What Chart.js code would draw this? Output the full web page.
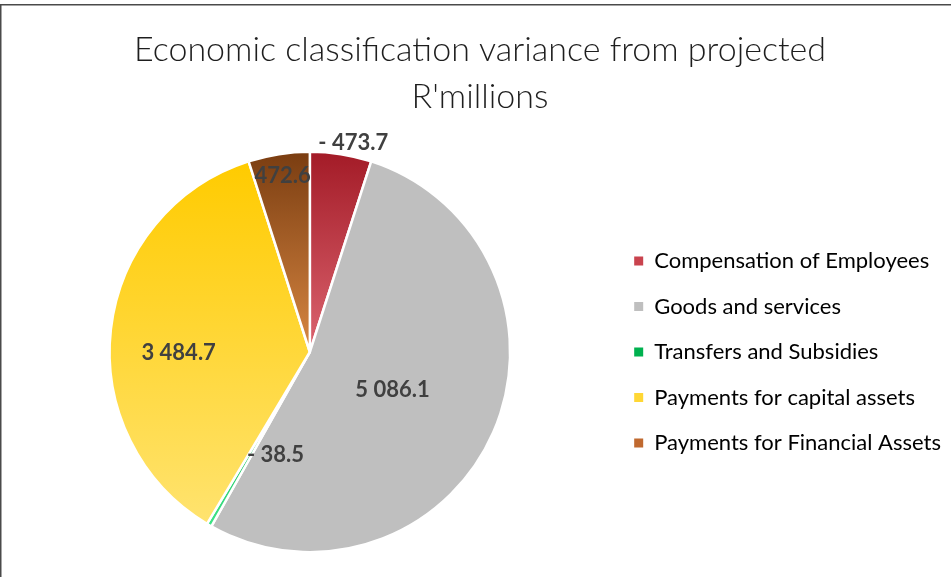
<!DOCTYPE html>
<html>
<head>
<meta charset="utf-8">
<title>Economic classification variance from projected</title>
<script src="https://cdn.jsdelivr.net/npm/chart.js@4"></script>
<style>
  html, body { margin: 0; padding: 0; background: #fff; }
  #wrap { width: 951px; height: 577px; position: relative; }
</style>
</head>
<body>
<div id="wrap"><canvas id="pie" width="951" height="577"></canvas></div>
<script>
'use strict';

// Chart data (variance from projected, R'millions)
const categories = [
  'Compensation of Employees',
  'Goods and services',
  'Transfers and Subsidies',
  'Payments for capital assets',
  'Payments for Financial Assets'
];
const variance = [-473.7, 5086.1, -38.5, 3484.7, 472.6];
const titleLines = ['Economic classification variance from projected', "R'millions"];

// slice fills: top -> bottom gradient stops, plus flat legend swatches
const gradTop = ['#a31b27', '#bfbfbf', '#009a3e', '#ffcb00', '#7a3d11'];
const gradBottom = ['#dc6570', '#bfbfbf', '#3fe487', '#ffe36f', '#d88742'];
const legendColors = ['#c9434e', '#bfbfbf', '#00b14f', '#ffd735', '#c0692f'];

// label placement: [fraction of radius, angle shift in degrees]
const labelPlace = [[1.067, 2.8], [0.454, 0.9], [0.54, -11.7], [0.655, -6.8], [0.89, 0.1]];

const BORDER = 2.5;

function fmt(v) {
  const s = Math.abs(v).toFixed(1).split('.');
  const intPart = s[0].replace(/\B(?=(\d{3})+(?!\d))/g, ' ');
  return (v < 0 ? '- ' : '') + intPart + '.' + s[1];
}

// Work out the vertical extent of a slice so the gradient spans it, as Excel does.
function sliceGradient(ctx) {
  const chart = ctx.chart;
  const i = ctx.dataIndex;
  const area = chart.chartArea;
  if (!area || i === undefined) return gradTop[i] || '#ccc';
  const cx = (area.left + area.right) / 2;
  const cy = (area.top + area.bottom) / 2;
  const r = (Math.min(area.width, area.height) - BORDER) / 2;
  const total = variance.reduce((a, b) => a + Math.abs(b), 0);
  let start = -Math.PI / 2;
  for (let k = 0; k < i; k++) start += Math.PI * 2 * Math.abs(variance[k]) / total;
  const end = start + Math.PI * 2 * Math.abs(variance[i]) / total;
  const ys = [cy, cy + r * Math.sin(start), cy + r * Math.sin(end)];
  [-Math.PI / 2, Math.PI / 2, Math.PI * 1.5].forEach(a => {
    if (a >= start && a <= end) ys.push(cy + r * Math.sin(a));
  });
  const y0 = Math.min(...ys), y1 = Math.max(...ys);
  const g = chart.ctx.createLinearGradient(0, y0, 0, y1 > y0 ? y1 : y0 + 1);
  g.addColorStop(0, gradTop[i]);
  g.addColorStop(1, gradBottom[i]);
  return g;
}

const sliceLabels = {
  id: 'sliceLabels',
  afterDatasetsDraw(chart) {
    const ctx = chart.ctx;
    const meta = chart.getDatasetMeta(0);
    ctx.save();
    ctx.font = 'bold 22px Lato, "Open Sans", sans-serif';
    ctx.fillStyle = '#404040';
    ctx.textAlign = 'center';
    ctx.textBaseline = 'middle';
    meta.data.forEach((arc, i) => {
      const p = arc.getProps(['x', 'y', 'startAngle', 'endAngle', 'outerRadius'], true);
      const [frac, shift] = labelPlace[i];
      const a = (p.startAngle + p.endAngle) / 2 + shift * Math.PI / 180;
      const d = p.outerRadius * frac;
      ctx.fillText(fmt(variance[i]), p.x + Math.cos(a) * d, p.y + Math.sin(a) * d);
    });
    ctx.restore();
  }
};

const frame = {
  id: 'frame',
  beforeDraw(chart) {
    const ctx = chart.ctx;
    ctx.save();
    ctx.fillStyle = '#fff';
    ctx.fillRect(0, 0, chart.width, chart.height);
    ctx.strokeStyle = '#4a4a4a';
    ctx.lineWidth = 1.5;
    ctx.beginPath();
    ctx.moveTo(0.75, chart.height);
    ctx.lineTo(0.75, 4.75);
    ctx.lineTo(chart.width, 4.75);
    ctx.stroke();
    ctx.restore();
  }
};

new Chart(document.getElementById('pie'), {
  type: 'pie',
  data: {
    labels: categories,
    datasets: [{
      data: variance,
      backgroundColor: sliceGradient,
      borderColor: '#ffffff',
      borderWidth: BORDER
    }]
  },
  options: {
    responsive: false,
    animation: false,
    layout: { padding: { left: 9, right: 0, top: 0, bottom: 23.5 } },
    plugins: {
      title: {
        display: true,
        text: titleLines,
        color: '#1e1e1e',
        font: { family: 'Lato, "Open Sans", sans-serif', size: 34, weight: 300, lineHeight: 1.4 },
        padding: { top: 26, bottom: 29.3 }
      },
      legend: {
        position: 'right',
        fullSize: false,
        labels: {
          color: '#5f5f5f',
          font: { family: 'Lato, "Open Sans", sans-serif', size: 22 },
          boxWidth: 9,
          boxHeight: 9,
          padding: 23.5,
          generateLabels(chart) {
            return chart.data.labels.map((label, i) => ({
              text: label,
              fillStyle: legendColors[i],
              strokeStyle: legendColors[i],
              lineWidth: 0,
              hidden: false,
              index: i
            }));
          }
        }
      },
      tooltip: { enabled: false }
    }
  },
  plugins: [frame, sliceLabels]
});
</script>
</body>
</html>
